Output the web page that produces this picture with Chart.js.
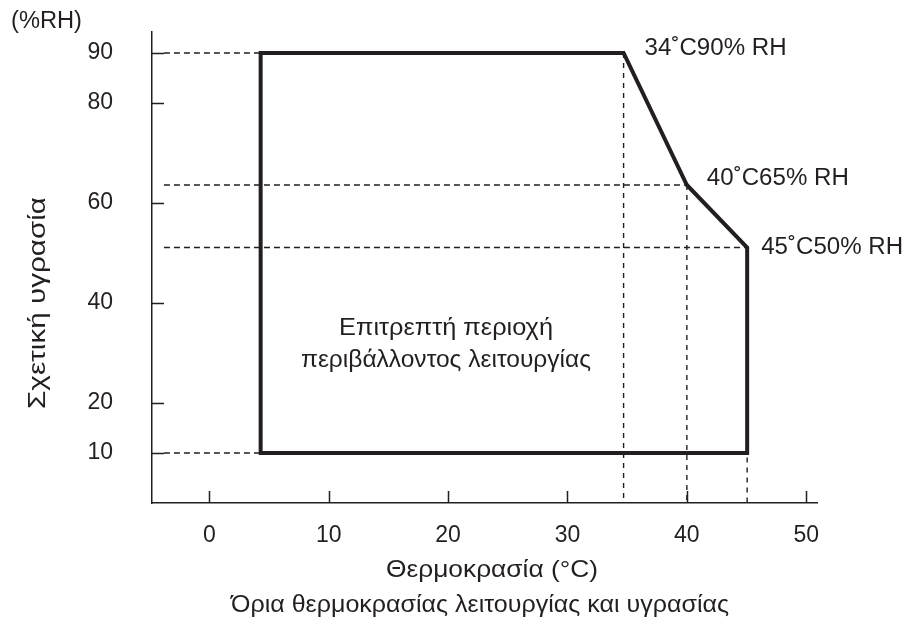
<!DOCTYPE html>
<html>
<head>
<meta charset="utf-8">
<script src="https://cdn.jsdelivr.net/npm/chart.js@4.4.1/dist/chart.umd.min.js"></script>
<style>
  html, body { margin: 0; padding: 0; background: #fff; }
  #wrap { width: 904px; height: 620px; }
</style>
</head>
<body>
<div id="wrap"><canvas id="chart" width="904" height="620"></canvas></div>
<script>
// Operating zone outline: temperature (°C) against relative humidity (%RH)
var zoneTemp = [4.3, 4.3, 34.7, 40, 45.05, 45.05, 4.3];
var zoneRH   = [10, 90, 90, 63.6, 51.1, 10, 10];

// Corner labels and the outline point each one belongs to
var cornerLabels = ['34˚C90% RH', '40˚C65% RH', '45˚C50% RH'];
var cornerIndex  = [2, 3, 4];

// Dashed guides: horizontal ones run from the y axis to a corner,
// vertical ones drop from a corner down to the x axis
var guideStart = -3.8;
var hGuideRH   = [90, 63.6, 51.1, 10];
var hGuideEnd  = [4.3, 40, 45.05, 4.3];
var vGuideTemp = [34.7, 40, 45.05];
var vGuideTop  = [90, 63.6, 51.1];

var xTicks = [0, 10, 20, 30, 40, 50];
var yTicks = [10, 20, 40, 60, 80, 90];

var INK = '#231f20';
var FONT = '"Liberation Sans", Arial, Helvetica, sans-serif';
var TICK_SIZE = 23;

var datasets = [];

datasets.push({
    data: zoneTemp.map(function(t, i) { return { x: t, y: zoneRH[i] }; }),
    borderColor: INK,
    borderWidth: 4,
    borderJoinStyle: 'miter',
    borderCapStyle: 'square'
});

hGuideRH.forEach(function(rh, i) {
    datasets.push({
        data: [{ x: guideStart, y: rh }, { x: hGuideEnd[i], y: rh }],
        borderColor: INK,
        borderWidth: 1.4,
        borderDash: [6, 4]
    });
});

vGuideTemp.forEach(function(t, i) {
    datasets.push({
        data: [{ x: t, y: vGuideTop[i] }, { x: t, y: 0 }],
        borderColor: INK,
        borderWidth: 1.4,
        borderDash: [5, 5]
    });
});

datasets.forEach(function(d) {
    d.showLine = true;
    d.fill = false;
    d.pointRadius = 0;
    d.tension = 0;
});

// draw text squeezed/stretched to a given width (the source font runs wide)
function fitText(ctx, txt, x, y, w, size, align, rot) {
    ctx.save();
    ctx.font = size + 'px ' + FONT;
    var m = ctx.measureText(txt).width;
    ctx.translate(x, y);
    if (rot) ctx.rotate(rot);
    ctx.scale(w / m, 1);
    ctx.textAlign = align;
    ctx.textBaseline = 'middle';
    ctx.fillText(txt, 0, 0);
    ctx.restore();
}

// Short tick marks pointing into the plot, plus all free text
var decorations = {
    id: 'decorations',
    afterDraw: function(chart) {
        var ctx = chart.ctx;
        var xs = chart.scales.x, ys = chart.scales.y;
        var area = chart.chartArea;

        ctx.save();
        ctx.strokeStyle = INK;
        ctx.lineWidth = 1.5;
        ctx.beginPath();
        xTicks.forEach(function(v) {
            var px = Math.round(xs.getPixelForValue(v)) + 0.5;
            ctx.moveTo(px, area.bottom);
            ctx.lineTo(px, area.bottom - 12);
        });
        yTicks.forEach(function(v) {
            var py = Math.round(ys.getPixelForValue(v)) + 0.5;
            ctx.moveTo(area.left, py);
            ctx.lineTo(area.left + 12, py);
        });
        ctx.stroke();
        ctx.fillStyle = INK;

        fitText(ctx, '(%RH)', 11, 22, 71, 23, 'left');

        var offsets = [[21, -4], [20, -6], [14, 0]];
        cornerLabels.forEach(function(txt, i) {
            var k = cornerIndex[i];
            var px = xs.getPixelForValue(zoneTemp[k]);
            var py = ys.getPixelForValue(zoneRH[k]);
            fitText(ctx, txt, px + offsets[i][0], py + offsets[i][1], 142, 23, 'left');
        });

        fitText(ctx, 'Επιτρεπτή περιοχή', 446, 328, 214, 24, 'center');
        fitText(ctx, 'περιβάλλοντος λειτουργίας', 446, 360, 290, 24, 'center');

        fitText(ctx, 'Θερμοκρασία (°C)', 492, 570, 212, 24, 'center');
        fitText(ctx, 'Όρια θερμοκρασίας λειτουργίας και υγρασίας', 480, 605, 498, 24, 'center');

        fitText(ctx, 'Σχετική υγρασία', 38, 303, 212, 24, 'center', -Math.PI / 2);
        ctx.restore();
    }
};

new Chart(document.getElementById('chart'), {
    type: 'scatter',
    data: { datasets: datasets },
    options: {
        responsive: false,
        animation: false,
        devicePixelRatio: 1,
        layout: { padding: { left: 0, top: 32, right: 87, bottom: 0 } },
        plugins: {
            legend: { display: false },
            tooltip: { enabled: false }
        },
        scales: {
            x: {
                type: 'linear',
                min: -4.8,
                max: 50.9,
                afterBuildTicks: function(s) {
                    s.ticks = xTicks.map(function(v) { return { value: v }; });
                },
                afterFit: function(s) {
                    s.height = 117;
                    s.paddingLeft = 0;
                    s.paddingRight = 0;
                },
                grid: { display: true, drawOnChartArea: false, drawTicks: false },
                border: { display: true, color: INK, width: 1.5 },
                ticks: {
                    color: INK,
                    padding: 19,
                    maxRotation: 0,
                    font: { family: FONT, size: TICK_SIZE }
                }
            },
            y: {
                type: 'linear',
                min: 0,
                max: 94.2,
                afterBuildTicks: function(s) {
                    s.ticks = yTicks.map(function(v) { return { value: v }; });
                },
                afterFit: function(s) {
                    s.width = 152;
                    s.paddingTop = 0;
                    s.paddingBottom = 0;
                },
                grid: { display: true, drawOnChartArea: false, drawTicks: false },
                border: { display: true, color: INK, width: 1.5 },
                ticks: {
                    color: INK,
                    padding: 39,
                    font: { family: FONT, size: TICK_SIZE }
                }
            }
        }
    },
    plugins: [decorations]
});
</script>
</body>
</html>
